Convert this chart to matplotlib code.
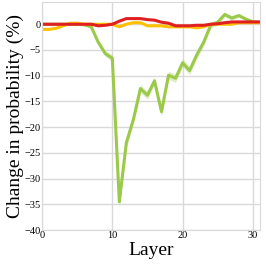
import numpy as np
import matplotlib.pyplot as plt

# -------------------------------------------------------
# DATA
# -------------------------------------------------------

layers = np.arange(32)

green = [0.0, 0.0, 0.0, 0.0, 0.0, 0.0, -0.1, -0.5, -3.5, -5.7, -6.6,
         -34.5, -23.0, -18.5, -12.5, -13.8, -11.0, -17.0, -9.9, -10.5,
         -7.5, -9.0, -6.0, -3.5, -0.2, 0.4, 1.9, 1.2, 1.7, 1.0, 0.5, 0.4]
green_err = [0.1, 0.1, 0.1, 0.1, 0.1, 0.1, 0.2, 0.3, 0.5, 0.6, 0.7,
             1.2, 1.0, 0.9, 0.8, 0.8, 0.8, 0.9, 0.8, 0.8,
             0.8, 0.8, 0.8, 0.7, 0.6, 0.5, 0.5, 0.4, 0.4, 0.3, 0.3, 0.3]

yellow = [-1.0, -1.0, -0.8, -0.3, 0.2, 0.2, 0.0, 0.0, 0.0, 0.0, 0.0,
          -0.5, 0.0, 0.3, 0.3, -0.3, -0.3, -0.3, -0.5, -0.5,
          -0.5, -0.5, -0.7, -0.5, 0.0, 0.0, 0.0, 0.0, 0.3, 0.3, 0.3, 0.3]

red = [0.0, 0.0, 0.0, 0.0, 0.0, 0.0, 0.0, 0.0, -0.3, -0.2, 0.0,
       0.6, 1.1, 1.1, 1.1, 0.9, 0.8, 0.4, 0.2, -0.3,
       -0.3, -0.3, -0.2, -0.2, 0.0, 0.1, 0.3, 0.45, 0.45, 0.45, 0.45, 0.45]

# -------------------------------------------------------
# PLOT
# -------------------------------------------------------

plt.rcParams['font.family'] = ['Liberation Serif', 'DejaVu Serif']

fig = plt.figure(figsize=(2.66, 2.66), dpi=100)
ax = fig.add_axes([0.158, 0.135, 0.819, 0.857])

g = np.array(green)
ge = np.array(green_err)
ax.fill_between(layers, g - ge, g + ge, color='#9bc94a', alpha=0.3, lw=0)
ax.plot(layers, g, color='#9bc94a', lw=2.2)
ax.plot(layers, yellow, color='#ffc000', lw=2.2)
ax.plot(layers, red, color='#e02020', lw=2.2)

ax.set_xlim(0, 31)
ax.set_ylim(-40, 4.3)
ax.set_xticks([0, 10, 20, 30])
ax.set_yticks(np.arange(-40, 1, 5))
ax.grid(color='#d9d9d9', lw=1)
ax.set_axisbelow(True)
for s in ax.spines.values():
    s.set_color('#d9d9d9')
ax.tick_params(length=0, labelsize=7.5, pad=1)

ax.set_xlabel("Layer", fontsize=14, labelpad=1)
ax.set_ylabel("Change in probability (%)", fontsize=14, labelpad=0)

fig.savefig("out.png", dpi=100)
